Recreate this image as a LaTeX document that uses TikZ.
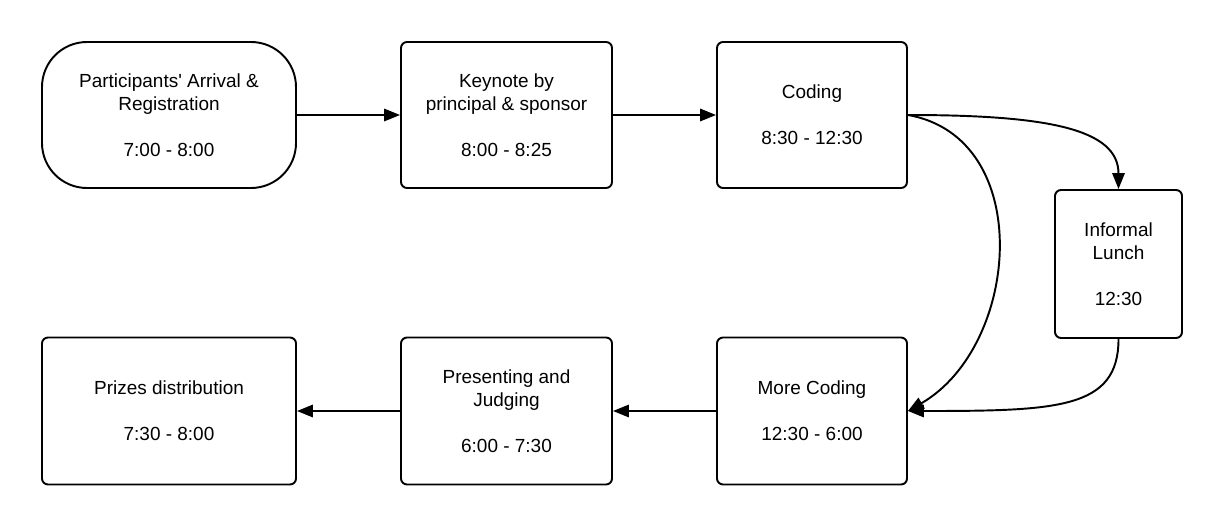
\documentclass[tikz,border=0pt]{standalone}
\usepackage{fontspec}
\setmainfont{Liberation Sans}
\usepackage{tikz}
\usetikzlibrary{arrows.meta}
\usetikzlibrary{positioning}
\usetikzlibrary{calc}
\tikzset{stagebox/.style={draw, line width=1.1pt, rounded corners=0.12cm, align=center, inner sep=0pt, font=\fontsize{10.8}{13}\selectfont}}
\tikzset{startbox/.style={stagebox, rounded corners=0.9cm}}
\tikzset{flow/.style={line width=1.1pt, -{Triangle[length=9pt,width=7pt]}}}

\begin{document}
\begin{tikzpicture}
\useasboundingbox (0, 0) rectangle (24.48, 10.56);

\node[startbox, minimum width=5.08cm, minimum height=2.92cm] (arrival) at (3.38, 8.26) {Participants\textquotesingle{} Arrival \&\\ Registration\\[13pt] 7:00 - 8:00};
\node[stagebox, minimum width=4.22cm, minimum height=2.92cm] (keynote) at (10.13, 8.26) {Keynote by\\ principal \& sponsor\\[13pt] 8:00 - 8:25};
\node[stagebox, minimum width=3.8cm, minimum height=2.92cm] (coding) at (16.24, 8.26) {Coding\\[13pt] 8:30 - 12:30};
\node[stagebox, minimum width=2.54cm, minimum height=2.96cm] (lunch) at (22.37, 5.28) {Informal\\ Lunch\\[13pt] 12:30};

\node[stagebox, minimum width=3.8cm, minimum height=2.94cm] (morecoding) at (16.24, 2.34) {More Coding\\[13pt] 12:30 - 6:00};
\node[stagebox, minimum width=4.22cm, minimum height=2.94cm] (judging) at (10.13, 2.34) {Presenting and\\ Judging\\[13pt] 6:00 - 7:30};
\node[stagebox, minimum width=5.08cm, minimum height=2.94cm] (prizes) at (3.38, 2.34) {Prizes distribution\\[13pt] 7:30 - 8:00};

\draw[flow] (arrival.east) to (keynote.west);
\draw[flow] (keynote.east) to (coding.west);
\draw[flow] (coding.east) .. controls +(0:2.8) and +(90:1.2) .. (lunch.north);
\draw[flow] (coding.east) .. controls +(-10:2.6) and +(30:2.6) .. (morecoding.east);
\draw[flow] (lunch.south) .. controls +(270:1.4) and +(0:3) .. (morecoding.east);
\draw[flow] (morecoding.west) to (judging.east);
\draw[flow] (judging.west) to (prizes.east);

\end{tikzpicture}
\end{document}
